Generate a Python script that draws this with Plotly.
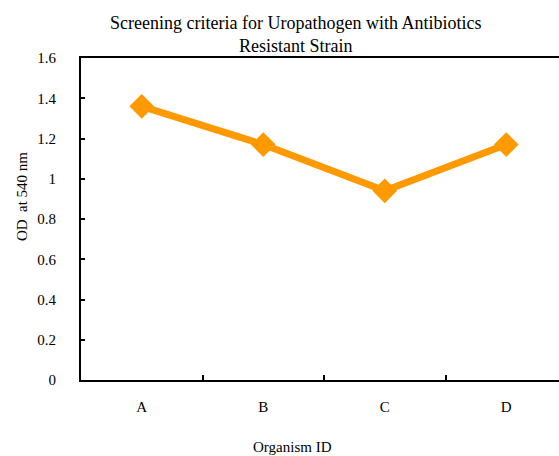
import plotly.graph_objects as go

categories = ["A", "B", "C", "D"]
od_values = [1.36, 1.17, 0.94, 1.17]
y_ticks = [0, 0.2, 0.4, 0.6, 0.8, 1.0, 1.2, 1.4, 1.6]
y_tick_labels = ["0", "0.2", "0.4", "0.6", "0.8", "1", "1.2", "1.4", "1.6"]

FONT = "Liberation Serif, Times New Roman, serif"
ORANGE = "rgb(255,153,0)"

fig = go.Figure()
fig.add_trace(go.Scatter(
    x=categories, y=od_values, mode="lines+markers",
    line=dict(color=ORANGE, width=7),
    marker=dict(symbol="diamond", size=19, color=ORANGE),
    showlegend=False, cliponaxis=False,
))

fig.update_layout(
    width=559, height=456,
    margin=dict(l=81, r=0, t=58, b=76),
    paper_bgcolor="white", plot_bgcolor="white",
    font=dict(family=FONT, color="black", size=14),
    showlegend=False,
)
fig.update_xaxes(
    type="category", range=[-0.5, 3.434],
    showline=True, linecolor="black", linewidth=2, mirror=True,
    ticks="inside", ticklen=5, tickwidth=2, tickcolor="black",
    tickson="boundaries", showgrid=False, zeroline=False,
    tickfont=dict(family=FONT, size=15), ticklabelstandoff=12,
)
fig.update_yaxes(
    range=[0, 1.6], tickvals=y_ticks, ticktext=y_tick_labels,
    showline=True, linecolor="black", linewidth=2,
    ticks="inside", ticklen=4, tickwidth=2, tickcolor="black",
    showgrid=False, zeroline=False,
    tickfont=dict(family=FONT, size=15), ticklabelstandoff=20,
)

fig.add_annotation(
    text="Screening criteria for Uropathogen with Antibiotics<br>Resistant Strain",
    xref="paper", yref="paper", x=0.4477, y=1.073,
    xanchor="center", yanchor="middle", showarrow=False,
    font=dict(family=FONT, size=18, color="black"),
)
fig.add_annotation(
    text="Organism ID", xref="paper", yref="paper", x=0.4435, y=-0.208,
    xanchor="center", yanchor="middle", showarrow=False,
    font=dict(family=FONT, size=15, color="black"),
)
fig.add_annotation(
    text="OD\u00a0 at 540 nm", xref="paper", yref="paper", x=-0.1234, y=0.568,
    xanchor="center", yanchor="middle", showarrow=False, textangle=-90,
    font=dict(family=FONT, size=15, color="black"),
)

fig.write_html(
    "out.html",
    config={"displayModeBar": False},
    post_script="document.body.style.margin='0';document.body.style.overflow='hidden';",
)
